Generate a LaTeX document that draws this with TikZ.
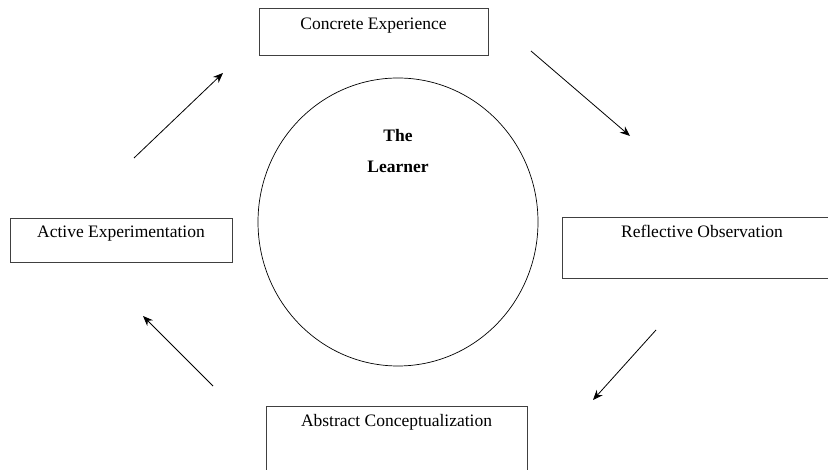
\documentclass[tikz,border=0pt]{standalone}
\usepackage{fontspec}
\setmainfont{Liberation Serif}
\usetikzlibrary{arrows.meta,shapes.geometric}
\begin{document}
\begin{tikzpicture}[x=1pt,y=-1pt,
	every node/.style={font=\fontsize{17.5}{31}\selectfont,inner sep=0pt},
	stagebox/.style={draw=black!75,line width=0.8pt,anchor=base},
	cyclearrow/.style={-{Stealth[length=10pt,width=8pt]},line width=0.8pt}]
		\useasboundingbox (0,0) rectangle (828,470);
		\node[stagebox,minimum width=229pt,text height=22pt,text depth=25pt] (conc) at (373.5,30) {Concrete Experience};
		\node[stagebox,minimum width=280pt,text height=21pt,text depth=40pt] (refl) at (702,238) {Reflective Observation};
		\node[stagebox,minimum width=261pt,text height=21pt,text depth=60pt] (abst) at (396.5,427) {Abstract Conceptualization};
		\node[stagebox,minimum width=222pt,text height=20pt,text depth=24pt] (actv) at (121,238) {Active Experimentation};
		\node[draw,ellipse,line width=0.7pt,minimum width=280pt,minimum height=288pt] (lrn) at (398,222) {};
		\node[anchor=base,align=center,font=\fontsize{17.5}{31}\selectfont\bfseries] (lrntxt) at (398,173) {The\\Learner};
		\coordinate (tl1) at (134,158);
		\coordinate (tl2) at (223,73);
		\coordinate (tr1) at (531,51);
		\coordinate (tr2) at (630,136);
		\coordinate (br1) at (656,330);
		\coordinate (br2) at (593,400);
		\coordinate (bl1) at (213,386);
		\coordinate (bl2) at (143,316);
		\draw[cyclearrow] (tl1)--(tl2);
		\draw[cyclearrow] (tr1)--(tr2);
		\draw[cyclearrow] (br1)--(br2);
		\draw[cyclearrow] (bl1)--(bl2);
	\end{tikzpicture}
\end{document}
